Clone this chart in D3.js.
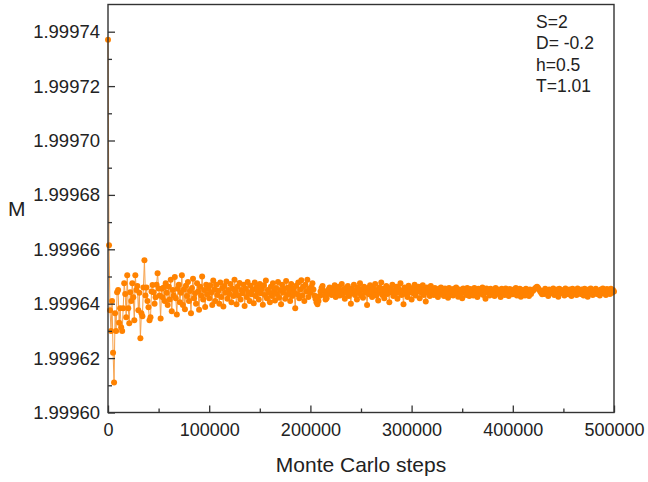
<!DOCTYPE html>
<html>
<head>
<meta charset="utf-8">
<script src="https://cdn.jsdelivr.net/npm/d3@7"></script>
<style>
  body { margin: 0; background: #fff; }
  text { font-family: "Liberation Sans", Arial, sans-serif; fill: #222; }
</style>
</head>
<body>
<svg id="chart" width="648" height="482"></svg>
<script>
// Magnetization sampled every 1000 Monte Carlo steps
const stepInterval = 1000;
const magnetization = [
  1.999737, 1.9996615, 1.9996376, 1.9996300, 1.9996410, 1.9996220, 1.9996110, 1.9996365, 1.9996300, 1.9996442,
  1.9996450, 1.9996330, 1.9996383, 1.9996313, 1.9996300, 1.9996383, 1.9996475, 1.9996436, 1.9996350, 1.9996505,
  1.9996383, 1.9996328, 1.9996442, 1.9996410, 1.9996475, 1.9996424, 1.9996339, 1.9996505, 1.9996450, 1.9996465,
  1.9996376, 1.9996440, 1.9996273, 1.9996365, 1.9996354, 1.9996460, 1.9996560, 1.9996430, 1.9996460, 1.9996410,
  1.9996387, 1.9996339, 1.9996350, 1.9996445, 1.9996469, 1.9996442, 1.9996400, 1.9996424, 1.9996470, 1.9996512,
  1.9996456, 1.9996430, 1.9996346, 1.9996455, 1.9996424, 1.9996460, 1.9996410, 1.9996475, 1.9996440, 1.9996395,
  1.9996462, 1.9996415, 1.9996488, 1.9996372, 1.9996450, 1.9996430, 1.9996498, 1.9996420, 1.9996360, 1.9996455,
  1.9996470, 1.9996405, 1.9996440, 1.9996505, 1.9996395, 1.9996452, 1.9996380, 1.9996466, 1.9996428, 1.9996480,
  1.9996410, 1.9996447, 1.9996365, 1.9996458, 1.9996492, 1.9996420, 1.9996438, 1.9996400, 1.9996475, 1.9996445,
  1.9996378, 1.9996462, 1.9996430, 1.9996500, 1.9996415, 1.9996450, 1.9996388, 1.9996470, 1.9996435, 1.9996455,
  1.9996420, 1.9996468, 1.9996440, 1.9996395, 1.9996485, 1.9996452, 1.9996410, 1.9996470, 1.9996432, 1.9996448,
  1.9996400, 1.9996478, 1.9996425, 1.9996458, 1.9996390, 1.9996465, 1.9996440, 1.9996482, 1.9996418, 1.9996450,
  1.9996436, 1.9996472, 1.9996405, 1.9996455, 1.9996428, 1.9996488, 1.9996445, 1.9996398, 1.9996462, 1.9996430,
  1.9996476, 1.9996415, 1.9996450, 1.9996438, 1.9996470, 1.9996392, 1.9996455, 1.9996425, 1.9996480, 1.9996442,
  1.9996410, 1.9996466, 1.9996435, 1.9996452, 1.9996402, 1.9996478, 1.9996428, 1.9996460, 1.9996445, 1.9996415,
  1.9996472, 1.9996438, 1.9996455, 1.9996396, 1.9996468, 1.9996432, 1.9996485, 1.9996420, 1.9996450, 1.9996440,
  1.9996405, 1.9996462, 1.9996428, 1.9996475, 1.9996445, 1.9996412, 1.9996458, 1.9996436, 1.9996480, 1.9996422,
  1.9996450, 1.9996398, 1.9996470, 1.9996440, 1.9996455, 1.9996418, 1.9996483, 1.9996432, 1.9996460, 1.9996445,
  1.9996410, 1.9996472, 1.9996428, 1.9996455, 1.9996440, 1.9996383, 1.9996466, 1.9996435, 1.9996478, 1.9996420,
  1.9996452, 1.9996486, 1.9996430, 1.9996462, 1.9996410, 1.9996470, 1.9996445, 1.9996488, 1.9996425, 1.9996455,
  1.9996440, 1.9996462, 1.9996475, 1.9996452, 1.9996430, 1.9996418, 1.9996405, 1.9996398, 1.9996410, 1.9996428,
  1.9996445, 1.9996458, 1.9996465, 1.9996448, 1.9996430, 1.9996415, 1.9996420, 1.9996438, 1.9996452, 1.9996460,
  1.9996448, 1.9996432, 1.9996455, 1.9996440, 1.9996468, 1.9996425, 1.9996450, 1.9996438, 1.9996462, 1.9996430,
  1.9996445, 1.9996472, 1.9996435, 1.9996452, 1.9996418, 1.9996458, 1.9996440, 1.9996465, 1.9996428, 1.9996450,
  1.9996400, 1.9996455, 1.9996438, 1.9996470, 1.9996432, 1.9996448, 1.9996415, 1.9996460, 1.9996442, 1.9996475,
  1.9996430, 1.9996452, 1.9996422, 1.9996462, 1.9996440, 1.9996448, 1.9996395, 1.9996458, 1.9996435, 1.9996468,
  1.9996445, 1.9996425, 1.9996455, 1.9996438, 1.9996472, 1.9996430, 1.9996450, 1.9996412, 1.9996460, 1.9996440,
  1.9996478, 1.9996432, 1.9996455, 1.9996420, 1.9996448, 1.9996465, 1.9996436, 1.9996452, 1.9996405, 1.9996458,
  1.9996442, 1.9996470, 1.9996428, 1.9996450, 1.9996438, 1.9996462, 1.9996418, 1.9996455, 1.9996440, 1.9996475,
  1.9996432, 1.9996448, 1.9996398, 1.9996460, 1.9996436, 1.9996452, 1.9996425, 1.9996466, 1.9996442, 1.9996450,
  1.9996415, 1.9996458, 1.9996438, 1.9996470, 1.9996430, 1.9996452, 1.9996445, 1.9996462, 1.9996420, 1.9996455,
  1.9996440, 1.9996468, 1.9996432, 1.9996450, 1.9996408, 1.9996460, 1.9996442, 1.9996455, 1.9996428, 1.9996465,
  1.9996440, 1.9996452, 1.9996432, 1.9996458, 1.9996438, 1.9996448, 1.9996425, 1.9996455, 1.9996442, 1.9996460,
  1.9996435, 1.9996450, 1.9996428, 1.9996456, 1.9996440, 1.9996446, 1.9996422, 1.9996458, 1.9996436, 1.9996452,
  1.9996444, 1.9996430, 1.9996455, 1.9996438, 1.9996460, 1.9996442, 1.9996426, 1.9996452, 1.9996436, 1.9996448,
  1.9996420, 1.9996456, 1.9996440, 1.9996450, 1.9996432, 1.9996458, 1.9996444, 1.9996428, 1.9996454, 1.9996438,
  1.9996446, 1.9996430, 1.9996458, 1.9996442, 1.9996450, 1.9996425, 1.9996455, 1.9996436, 1.9996448, 1.9996440,
  1.9996460, 1.9996432, 1.9996452, 1.9996418, 1.9996456, 1.9996442, 1.9996448, 1.9996430, 1.9996455, 1.9996438,
  1.9996450, 1.9996444, 1.9996428, 1.9996458, 1.9996436, 1.9996452, 1.9996440, 1.9996446, 1.9996425, 1.9996455,
  1.9996442, 1.9996450, 1.9996432, 1.9996456, 1.9996440, 1.9996448, 1.9996428, 1.9996454, 1.9996438, 1.9996446,
  1.9996435, 1.9996452, 1.9996440, 1.9996458, 1.9996430, 1.9996448, 1.9996442, 1.9996455, 1.9996426, 1.9996450,
  1.9996438, 1.9996450, 1.9996430, 1.9996455, 1.9996440, 1.9996448, 1.9996428, 1.9996452, 1.9996436, 1.9996446,
  1.9996448, 1.9996452, 1.9996456, 1.9996460, 1.9996462, 1.9996458, 1.9996452, 1.9996446, 1.9996440, 1.9996435,
  1.9996448, 1.9996436, 1.9996455, 1.9996440, 1.9996446, 1.9996428, 1.9996452, 1.9996438, 1.9996450, 1.9996442,
  1.9996456, 1.9996432, 1.9996448, 1.9996440, 1.9996452, 1.9996426, 1.9996455, 1.9996438, 1.9996446, 1.9996442,
  1.9996450, 1.9996430, 1.9996456, 1.9996440, 1.9996448, 1.9996435, 1.9996452, 1.9996442, 1.9996428, 1.9996455,
  1.9996438, 1.9996450, 1.9996444, 1.9996432, 1.9996456, 1.9996440, 1.9996448, 1.9996436, 1.9996452, 1.9996442,
  1.9996430, 1.9996455, 1.9996440, 1.9996448, 1.9996426, 1.9996452, 1.9996438, 1.9996456, 1.9996444, 1.9996432,
  1.9996450, 1.9996440, 1.9996455, 1.9996436, 1.9996448, 1.9996442, 1.9996430, 1.9996452, 1.9996440, 1.9996456,
  1.9996438, 1.9996446, 1.9996432, 1.9996454, 1.9996442, 1.9996448, 1.9996436, 1.9996455, 1.9996440, 1.9996450,
  1.9996445
];

const xMajorTicks = [0, 100000, 200000, 300000, 400000, 500000];
const xMinorTicks = [50000, 150000, 250000, 350000, 450000];
const yMajorTicks = [1.99960, 1.99962, 1.99964, 1.99966, 1.99968, 1.99970, 1.99972, 1.99974];
const yMinorTicks = [1.99961, 1.99963, 1.99965, 1.99967, 1.99969, 1.99971, 1.99973];
const parameterLines = ["S=2", "D= -0.2", "h=0.5", "T=1.01"];

const svg = d3.select("#chart");
const plot = { left: 108, right: 614, top: 4.5, bottom: 412.5 };

const x = d3.scaleLinear().domain([0, 500000]).range([plot.left, plot.right]);
const y = d3.scaleLinear().domain([1.99960, 1.99975]).range([plot.bottom, plot.top]);

const points = magnetization.map((m, i) => ({ step: i * stepInterval, m }));

// data: thin connecting line under circular markers
svg.append("path")
  .datum(points)
  .attr("fill", "none")
  .attr("stroke", "#f7a14a")
  .attr("stroke-width", 1)
  .attr("d", d3.line().x(d => x(d.step)).y(d => y(d.m)));

svg.append("g")
  .selectAll("circle")
  .data(points)
  .join("circle")
  .attr("cx", d => x(d.step))
  .attr("cy", d => y(d.m))
  .attr("r", 3)
  .attr("fill", "#ff8200");

// axes with inward ticks
const yAxis = svg.append("g")
  .attr("transform", `translate(${plot.left},0)`)
  .call(d3.axisLeft(y).tickValues(yMajorTicks).tickSizeInner(-7).tickSizeOuter(0)
    .tickPadding(8).tickFormat(d3.format(".5f")));
yAxis.selectAll(".tick text").style("font-size", "18.5px");
svg.append("g")
  .attr("transform", `translate(${plot.left},0)`)
  .call(d3.axisLeft(y).tickValues(yMinorTicks).tickSizeInner(-4).tickSizeOuter(0).tickFormat(""));

const xAxis = svg.append("g")
  .attr("transform", `translate(0,${plot.bottom})`)
  .call(d3.axisBottom(x).tickValues(xMajorTicks).tickSizeInner(-7).tickSizeOuter(0)
    .tickPadding(11).tickFormat(d3.format("d")));
xAxis.selectAll(".tick text").style("font-size", "18px");
svg.append("g")
  .attr("transform", `translate(0,${plot.bottom})`)
  .call(d3.axisBottom(x).tickValues(xMinorTicks).tickSizeInner(-4).tickSizeOuter(0).tickFormat(""));

svg.selectAll(".domain").remove();
svg.selectAll(".tick line").attr("stroke", "#333").attr("stroke-width", 1.3);
svg.selectAll(".tick text")
  .attr("fill", "#222")
  .style("font-family", "'Liberation Sans', Arial, sans-serif");

// plot frame
svg.append("rect")
  .attr("x", plot.left).attr("y", plot.top)
  .attr("width", plot.right - plot.left).attr("height", plot.bottom - plot.top)
  .attr("fill", "none").attr("stroke", "#333").attr("stroke-width", 1.4);

// axis titles
svg.append("text")
  .attr("x", 8).attr("y", 216)
  .style("font-size", "21px")
  .text("M");
svg.append("text")
  .attr("x", (plot.left + plot.right) / 2).attr("y", 472)
  .attr("text-anchor", "middle")
  .style("font-size", "21px")
  .text("Monte Carlo steps");

// simulation parameters
svg.append("g")
  .selectAll("text")
  .data(parameterLines)
  .join("text")
  .attr("x", 536)
  .attr("y", (d, i) => 28 + i * 21.3)
  .style("font-size", "17.5px")
  .text(d => d);
</script>
</body>
</html>
